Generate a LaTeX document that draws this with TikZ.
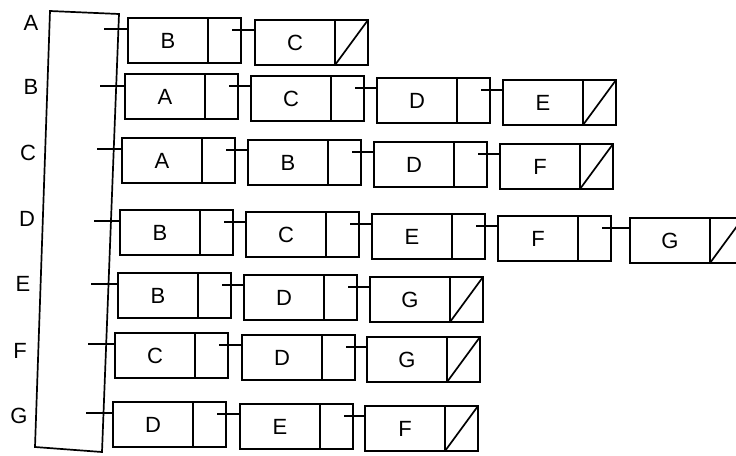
\documentclass[tikz,border=0pt]{standalone}
\usepackage{fontspec}
\setmainfont{Liberation Sans}
\usetikzlibrary{calc}
\tikzset{
  datacell/.style={draw, line width=1.7pt, minimum width=80pt, minimum height=45pt, inner sep=0pt, outer sep=0pt, font=\fontsize{22}{24}\selectfont},
  ptrcell/.style={draw, line width=1.7pt, minimum width=33pt, minimum height=45pt, inner sep=0pt, outer sep=0pt},
  headlabel/.style={font=\fontsize{22}{24}\selectfont, inner sep=0pt},
  conn/.style={line width=1.7pt},
}
\newcommand\cell[4]{%
  \node[datacell,anchor=north west] (#1d) at (#2,#3) {#4};
  \node[ptrcell,anchor=north west] (#1p) at (#1d.north east) {};}
\newcommand\link[2]{\draw[conn] ($(#1p.north east)+(-9pt,-12pt)$) coordinate (tmp) -- (tmp -| #2d.west);}
\newcommand\nil[1]{\draw[conn] (#1p.south west) -- (#1p.north east);}
\newcommand\headptr[3]{\coordinate (#1) at (#2); \draw[conn] (#1) -- (#1 -| #3d.west);}
\begin{document}
\begin{tikzpicture}[x=1pt,y=-1pt]
\useasboundingbox (0,0) rectangle (736,455);
% head array
\coordinate (h1) at (50,11);
\coordinate (h2) at (119,14);
\coordinate (h3) at (102,452);
\coordinate (h4) at (35,447);
\draw[conn] (h1) -- (h2) -- (h3) -- (h4) -- cycle;
% labels
\node[headlabel] (LA) at (31,23) {A};
\node[headlabel] (LB) at (31,87) {B};
\node[headlabel] (LC) at (28,153) {C};
\node[headlabel] (LD) at (27,219) {D};
\node[headlabel] (LE) at (23,284) {E};
\node[headlabel] (LF) at (20,351) {F};
\node[headlabel] (LG) at (19,416) {G};
% row A
\cell{a1}{128}{18}{B}
\cell{a2}{255}{20}{C}
\headptr{sa}{104,29}{a1}
\link{a1}{a2}
\nil{a2}
% row B
\cell{b1}{125}{74}{A}
\cell{b2}{251}{76}{C}
\cell{b3}{377}{78}{D}
\cell{b4}{503}{80}{E}
\headptr{sb}{100,86}{b1}
\link{b1}{b2}\link{b2}{b3}\link{b3}{b4}
\nil{b4}
% row C
\cell{c1}{122}{138}{A}
\cell{c2}{248}{140}{B}
\cell{c3}{374}{142}{D}
\cell{c4}{500}{144}{F}
\headptr{sc}{97,149}{c1}
\link{c1}{c2}\link{c2}{c3}\link{c3}{c4}
\nil{c4}
% row D
\cell{d1}{120}{210}{B}
\cell{d2}{246}{212}{C}
\cell{d3}{372}{214}{E}
\cell{d4}{498}{216}{F}
\cell{d5}{630}{218}{G}
\headptr{sd}{94,221}{d1}
\link{d1}{d2}\link{d2}{d3}\link{d3}{d4}\link{d4}{d5}
\nil{d5}
% row E
\cell{e1}{118}{273}{B}
\cell{e2}{244}{275}{D}
\cell{e3}{370}{277}{G}
\headptr{se}{91,284}{e1}
\link{e1}{e2}\link{e2}{e3}
\nil{e3}
% row F
\cell{f1}{115}{333}{C}
\cell{f2}{242}{335}{D}
\cell{f3}{367}{337}{G}
\headptr{sf}{88,344}{f1}
\link{f1}{f2}\link{f2}{f3}
\nil{f3}
% row G
\cell{g1}{113}{402}{D}
\cell{g2}{240}{404}{E}
\cell{g3}{365}{406}{F}
\headptr{sg}{86,413}{g1}
\link{g1}{g2}\link{g2}{g3}
\nil{g3}
\end{tikzpicture}
\end{document}
